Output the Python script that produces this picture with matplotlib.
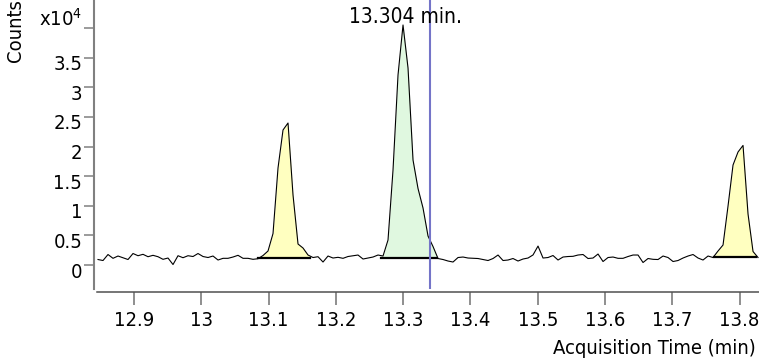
import numpy as np
import matplotlib
matplotlib.use('Agg')
import matplotlib.pyplot as plt
import matplotlib.transforms as mtransforms

plt.rcParams['font.family'] = 'DejaVu Sans'
plt.rcParams['font.stretch'] = 'condensed'

# chromatogram trace, one point every ~0.0074 min
t_start = 12.8465
t_step = 0.00743
counts = [929, 760, 1774, 1132, 1520, 1233, 929, 1943, 1571, 1807,
          1402, 1639, 1402, 963, 1182, 84, 1571, 1233, 1571, 1436,
          1943, 1436, 1267, 1520, 845, 1132, 1132, 1351, 1639, 1132,
          1132, 963, 1064, 1605, 2365, 5321, 16385, 22804, 23987, 11824,
          3547, 2872, 1689, 1267, 1402, 507, 1520, 1182, 1301, 1132,
          1436, 1571, 1689, 1014, 1182, 1351, 1689, 1520, 4223, 16047,
          32095, 40541, 33277, 17737, 12922, 9628, 4899, 3125, 1098, 929,
          676, 507, 1267, 1351, 1182, 1132, 1098, 929, 760, 1098,
          1689, 760, 845, 1098, 676, 1014, 1182, 1700, 3200, 1182,
          1267, 1605, 845, 1351, 1436, 1470, 1689, 1774, 1098, 1182,
          1858, 591, 1267, 1351, 1132, 1132, 1436, 1689, 1689, 422,
          1098, 963, 929, 1520, 1267, 591, 760, 1182, 1520, 1774,
          1182, 845, 1520, 1267, 2365, 3378, 9966, 16892, 19088, 20200,
          8615, 2280, 1267]

# integrated peaks
peak_start = [13.0847, 13.2666, 13.7618]
peak_end = [13.1615, 13.3508, 13.8242]
peak_base = [1130, 1130, 1300]
peak_color = ['#ffffc0', '#e0f8e0', '#ffffc0']

cursor_time = 13.34
label_time = 13.304
label_text = '13.304 min.'

x_ticks = [12.9, 13.0, 13.1, 13.2, 13.3, 13.4, 13.5, 13.6, 13.7, 13.8]
x_labels = ['12.9', '13', '13.1', '13.2', '13.3', '13.4', '13.5', '13.6', '13.7', '13.8']
y_ticks = [0, 0.5, 1, 1.5, 2, 2.5, 3, 3.5, 4]
y_labels = ['0', '0.5', '1', '1.5', '2', '2.5', '3', '3.5', '']

t = t_start + t_step * np.arange(len(counts))
y = np.array(counts) / 1e4

fig = plt.figure(figsize=(7.59, 3.62), dpi=100)
ax = fig.add_axes([97 / 759, 73 / 362, 662 / 759, 289 / 362])

for s, e, b, c in zip(peak_start, peak_end, peak_base, peak_color):
    m = (t > s) & (t < e)
    tt = np.concatenate([[s], t[m], [e]])
    yy = np.interp(tt, t, y)
    ax.fill_between(tt, yy, b / 1e4, color=c, lw=0)
    ax.plot([s, e], [b / 1e4, b / 1e4], color='black', lw=1.6)

ax.plot(t, y, color='black', lw=0.8)
ax.axvline(cursor_time, color='#7474c8', lw=1.5)

ax.set_xlim(12.845, 13.8287)
ax.set_ylim(-0.405, 4.476)
ax.set_xticks(x_ticks)
ax.set_xticklabels(x_labels)
ax.set_yticks(y_ticks)
ax.set_yticklabels(y_labels)

for side in ['top', 'right']:
    ax.spines[side].set_visible(False)
ax.spines['left'].set_position(('outward', 2.2))
ax.spines['left'].set_color('#808080')
ax.spines['left'].set_linewidth(1.5)
ax.spines['bottom'].set_position(('outward', 2.2))
ax.spines['bottom'].set_color('#505050')
ax.spines['bottom'].set_linewidth(1.1)

ax.tick_params(axis='x', length=9.4, width=1.1, color='#707070', pad=4.5, labelsize=14.5)
ax.tick_params(axis='y', length=7, width=1.1, color='#808080', pad=1.5, labelsize=14.5)

# labels sit a little below their ticks
shift = mtransforms.ScaledTranslation(0, -0.05, fig.dpi_scale_trans)
for lbl in ax.get_yticklabels():
    lbl.set_transform(lbl.get_transform() + shift)

ax.text(label_time, 0.9215, label_text, transform=ax.get_xaxis_transform(),
        ha='center', va='baseline', fontsize=15)
fig.text(82 / 759, 1 - 26 / 362, r'x10$^4$', ha='right', va='baseline', fontsize=14.5)
fig.text(15 / 759, 1 - 31 / 362, 'Counts', rotation=90, ha='center', va='center', fontsize=14.5)
fig.text(756 / 759, 8 / 362, 'Acquisition Time (min)', ha='right', va='baseline', fontsize=14.5)

fig.savefig('out.png', dpi=100)
